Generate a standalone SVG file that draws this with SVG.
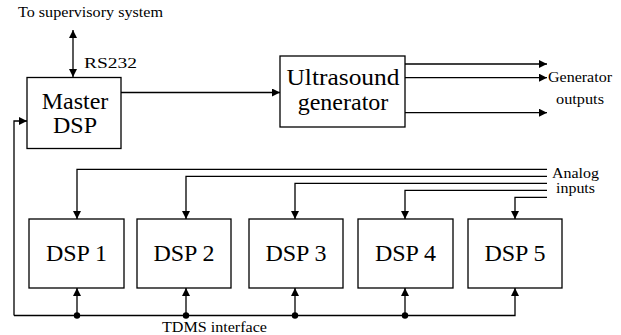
<svg xmlns="http://www.w3.org/2000/svg" width="621" height="335" viewBox="0 0 621 335">
<style>
.box{fill:#fff;stroke:#000;stroke-width:1.3}
.big{font-size:24px;fill:#000;text-anchor:middle}
.sm{font-size:14px;fill:#000}
.ln{fill:none;stroke:#000;stroke-width:1.3}
</style>
<defs>
<marker id="ah" viewBox="0 0 10 10" refX="10" refY="5" markerWidth="8" markerHeight="8" markerUnits="userSpaceOnUse" orient="auto-start-reverse">
<path d="M0,0 L10,5 L0,10 z" fill="#000"/>
</marker>
</defs>
<rect width="621" height="335" fill="#fff"/>
<g id="connectors">
<path class="ln" d="M73 30 V77" marker-start="url(#ah)" marker-end="url(#ah)"/>
<path class="ln" d="M121 92.5 H280" marker-end="url(#ah)"/>
<path class="ln" d="M405 64 H547" marker-end="url(#ah)"/>
<path class="ln" d="M405 77.7 H547" marker-end="url(#ah)"/>
<path class="ln" d="M405 112.7 H547" marker-end="url(#ah)"/>
<path class="ln" d="M14 315.5 V121 H27" marker-end="url(#ah)"/>
<path class="ln" d="M14 315.5 H515 V288" marker-end="url(#ah)"/>
<path class="ln" d="M77 315.5 V288" marker-end="url(#ah)"/>
<path class="ln" d="M186 315.5 V288" marker-end="url(#ah)"/>
<path class="ln" d="M295 315.5 V288" marker-end="url(#ah)"/>
<path class="ln" d="M405 315.5 V288" marker-end="url(#ah)"/>
<circle cx="77" cy="315.5" r="3.2"/>
<circle cx="186" cy="315.5" r="3.2"/>
<circle cx="295" cy="315.5" r="3.2"/>
<circle cx="405" cy="315.5" r="3.2"/>
<path class="ln" d="M547 169.3 H77 V219" marker-end="url(#ah)"/>
<path class="ln" d="M547 176.3 H186 V219" marker-end="url(#ah)"/>
<path class="ln" d="M547 183.3 H295 V219" marker-end="url(#ah)"/>
<path class="ln" d="M547 190.3 H405 V219" marker-end="url(#ah)"/>
<path class="ln" d="M547 197.3 H515 V219" marker-end="url(#ah)"/>
</g>
<g id="labels" font-family="Liberation Serif, serif">
<text class="sm" x="18" y="17" textLength="145" lengthAdjust="spacingAndGlyphs">To supervisory system</text>
<text class="sm" x="84" y="68" textLength="53" lengthAdjust="spacingAndGlyphs">RS232</text>
<text class="sm" x="548" y="82" textLength="64" lengthAdjust="spacingAndGlyphs">Generator</text>
<text class="sm" x="556" y="104" textLength="48" lengthAdjust="spacingAndGlyphs">outputs</text>
<text class="sm" x="552" y="178" textLength="47" lengthAdjust="spacingAndGlyphs">Analog</text>
<text class="sm" x="556" y="193" textLength="39" lengthAdjust="spacingAndGlyphs">inputs</text>
<text class="sm" x="162" y="332" textLength="105" lengthAdjust="spacingAndGlyphs">TDMS interface</text>
</g>
<g font-family="Liberation Serif, serif">
<g id="master">
<rect class="box" x="27" y="77.5" width="94" height="71"/>
<text class="big" x="75" y="109">Master</text>
<text class="big" x="75" y="133">DSP</text>
</g>
<g id="ultrasound">
<rect class="box" x="280" y="56" width="125" height="71"/>
<text class="big" x="343" y="85" textLength="113" lengthAdjust="spacingAndGlyphs">Ultrasound</text>
<text class="big" x="343" y="110">generator</text>
</g>
<g id="dsp1"><rect class="box" x="29" y="219" width="95" height="69"/><text class="big" x="76.5" y="261">DSP 1</text></g>
<g id="dsp2"><rect class="box" x="137" y="219" width="94" height="69"/><text class="big" x="184" y="261">DSP 2</text></g>
<g id="dsp3"><rect class="box" x="249" y="219" width="94" height="69"/><text class="big" x="296" y="261">DSP 3</text></g>
<g id="dsp4"><rect class="box" x="358" y="219" width="95" height="69"/><text class="big" x="405.5" y="261">DSP 4</text></g>
<g id="dsp5"><rect class="box" x="468" y="219" width="94" height="69"/><text class="big" x="515" y="261">DSP 5</text></g>
</g>
</svg>
